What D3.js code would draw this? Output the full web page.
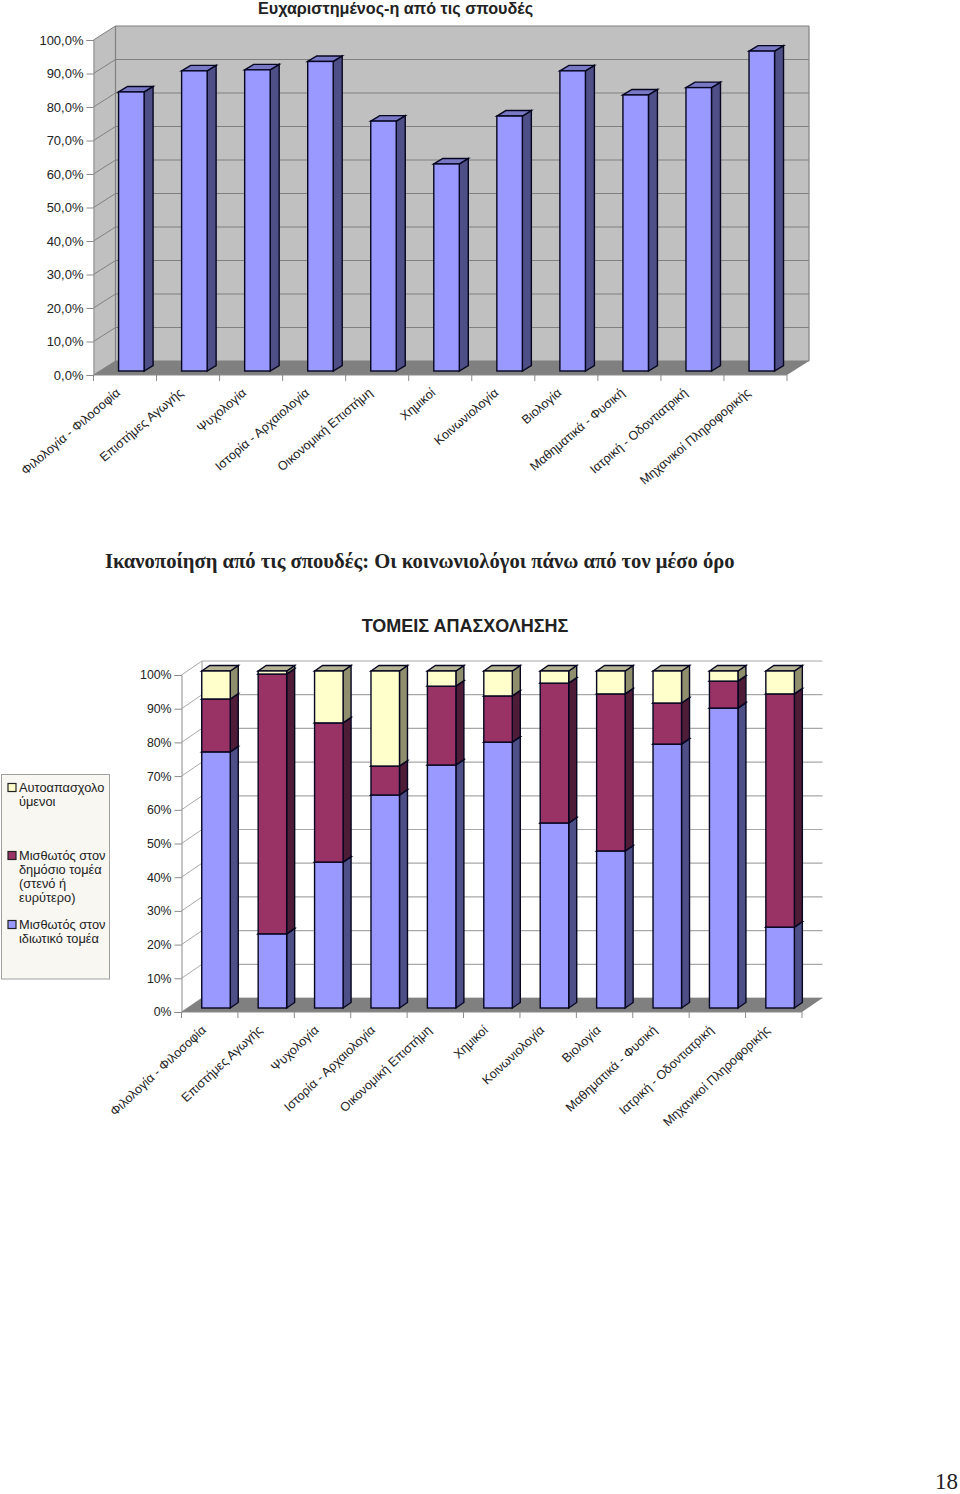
<!DOCTYPE html>
<html lang="el">
<head>
<meta charset="UTF-8">
<title>Ικανοποίηση από τις σπουδές</title>
<script src="https://d3js.org/d3.v7.min.js"></script>
<style>
  html, body { margin: 0; padding: 0; background: #fff; }
  svg { display: block; }
  text { font-family: "Liberation Sans", Arial, sans-serif; fill: #222; }
</style>
</head>
<body>
<svg id="page" width="960" height="1494"></svg>
<script>
var categories = ["Φιλολογία - Φιλοσοφία", "Επιστήμες Αγωγής", "Ψυχολογία", "Ιστορία - Αρχαιολογία",
  "Οικονομική Επιστήμη", "Χημικοί", "Κοινωνιολογία", "Βιολογία", "Μαθηματικά - Φυσική",
  "Ιατρική - Οδοντιατρική", "Μηχανικοί Πληροφορικής"]
var satisfied = [83.3, 89.6, 89.9, 92.4, 74.6, 61.8, 76.1, 89.6, 82.4, 84.6, 95.5]

var privateSector = [76, 22, 43.3, 63.2, 72.1, 78.9, 54.9, 46.6, 78.3, 89, 24]
var publicSector = [15.7, 77.1, 41.3, 8.6, 23.4, 13.7, 41.5, 46.6, 12.2, 8, 69.2]
var selfEmployed = [8.3, 0.9, 15.4, 28.2, 4.5, 7.4, 3.6, 6.8, 9.5, 3, 6.8]

var ticks = [0, 10, 20, 30, 40, 50, 60, 70, 80, 90, 100]
var ticksOne = ["0,0%", "10,0%", "20,0%", "30,0%", "40,0%", "50,0%", "60,0%", "70,0%", "80,0%", "90,0%", "100,0%"]
var ticksTwo = ["0%", "10%", "20%", "30%", "40%", "50%", "60%", "70%", "80%", "90%", "100%"]

var blue = { front: "#9999ff", side: "#4f4f88", top: "#7878c4" }
var maroon = { front: "#993366", side: "#4e1c36", top: "#702548" }
var cream = { front: "#ffffcc", side: "#8f8f6e", top: "#b5b596" }

var svg = d3.select("#page")

function addText(str, x, y, size, weight, family, anchor) {
  return svg.append("text").attr("x", x).attr("y", y)
    .attr("font-size", size).attr("font-weight", weight || "normal")
    .attr("text-anchor", anchor || "start")
    .style("font-family", family || null)
    .text(str)
}

// the box of one bar segment: front face, then the side and the top
function drawBox(g, x0, x1, y0, y1, c, dx, dy) {
  var line = "#060620"
  g.append("polygon")
    .attr("points", [[x1, y1], [x1 + dx, y1 - dy], [x1 + dx, y0 - dy], [x1, y0]].join(" "))
    .attr("fill", c.side).attr("stroke", line).attr("stroke-width", 1.4)
  g.append("polygon")
    .attr("points", [[x0, y1], [x0 + dx, y1 - dy], [x1 + dx, y1 - dy], [x1, y1]].join(" "))
    .attr("fill", c.top).attr("stroke", line).attr("stroke-width", 1.4)
  g.append("rect")
    .attr("x", x0).attr("y", y1).attr("width", x1 - x0).attr("height", y0 - y1)
    .attr("fill", c.front).attr("stroke", line).attr("stroke-width", 1.4)
}

// walls, floor, grid and both axes, returns the scales
function drawFrame(o) {
  var dx = o.depthX, dy = o.depthY
  var g = svg.append("g")
  var x = d3.scaleBand().domain(categories).range([o.left, o.right])
  var y = d3.scaleLinear().domain([0, 100]).range([o.bottom, o.top])

  g.append("polygon")
    .attr("points", [[o.left, o.bottom], [o.left, o.top], [o.left + dx, o.top - dy], [o.left + dx, o.bottom - dy]].join(" "))
    .attr("fill", o.wall)
  g.append("rect")
    .attr("x", o.left + dx).attr("y", o.top - dy).attr("width", o.right - o.left).attr("height", o.bottom - o.top)
    .attr("fill", o.wall)

  ticks.forEach(function(t) {
    g.append("line").attr("x1", o.left).attr("y1", y(t)).attr("x2", o.left + dx).attr("y2", y(t) - dy)
      .attr("stroke", o.grid).attr("stroke-width", 1)
    g.append("line").attr("x1", o.left + dx).attr("y1", y(t) - dy).attr("x2", o.right + dx).attr("y2", y(t) - dy)
      .attr("stroke", o.grid).attr("stroke-width", 1.2)
  })
  g.append("line").attr("x1", o.left + dx).attr("y1", o.top - dy).attr("x2", o.left + dx).attr("y2", o.bottom - dy)
    .attr("stroke", o.grid).attr("stroke-width", 1.2)
  if (o.wallEdge) {
    g.append("line").attr("x1", o.right + dx).attr("y1", o.top - dy).attr("x2", o.right + dx).attr("y2", o.bottom - dy)
      .attr("stroke", o.grid).attr("stroke-width", 1.2)
  }

  g.append("polygon")
    .attr("points", [[o.left, o.bottom], [o.left + dx, o.bottom - dy], [o.right + dx, o.bottom - dy], [o.right, o.bottom]].join(" "))
    .attr("fill", "#808080")

  var yAxis = d3.axisLeft(y).tickValues(ticks)
    .tickFormat(function(d, i) { return o.labels[i] })
    .tickSize(7).tickPadding(3)
  var ya = g.append("g").attr("transform", "translate(" + o.left + ",0)").call(yAxis)
  ya.selectAll("path, line").attr("stroke", "#8a8a8a")
  ya.selectAll("text").attr("font-size", o.tickSize).style("font-family", '"Liberation Sans", Arial, sans-serif').attr("fill", "#222")

  g.append("line").attr("x1", o.left).attr("y1", o.bottom).attr("x2", o.right).attr("y2", o.bottom).attr("stroke", "#8a8a8a")
  var edges = categories.map(function(c) { return x(c) }).concat([o.right])
  edges.forEach(function(e) {
    g.append("line").attr("x1", e).attr("y1", o.bottom).attr("x2", e).attr("y2", o.bottom + 6).attr("stroke", "#8a8a8a")
  })
  categories.forEach(function(c) {
    var px = x(c) + x.bandwidth() / 2 + o.labelX, py = o.bottom + o.labelY
    g.append("text").attr("transform", "translate(" + px + "," + py + ") rotate(" + o.catAngle + ")")
      .attr("text-anchor", "end").attr("font-size", o.catSize).text(c)
  })
  return { x: x, y: y }
}

// ---- first chart
addText("Ευχαριστημένος-η από τις σπουδές", 395.5, 14, 16.2, "bold", null, "middle")

var one = { left: 93.5, right: 787, top: 40, bottom: 375, depthX: 22, depthY: 14, wall: "#c0c0c0", grid: "#808080",
  wallEdge: true, labels: ticksOne, tickSize: 13, catSize: 12.6, catAngle: -40.5, labelX: -4, labelY: 19 }
var s1 = drawFrame(one)
var g1 = svg.append("g")
var w1 = 25.5
satisfied.forEach(function(v, i) {
  var c = categories[i]
  var x0 = s1.x(c) + (s1.x.bandwidth() - w1) / 2 + 6.3
  drawBox(g1, x0, x0 + w1, s1.y(0) - 4, s1.y(v) - 4, blue, 9, 5.5)
})

// ---- text between the charts
addText("Ικανοποίηση από τις σπουδές: Οι κοινωνιολόγοι πάνω από τον μέσο όρο", 105, 568, 20.6, "bold", '"Liberation Serif", serif')
addText("ΤΟΜΕΙΣ ΑΠΑΣΧΟΛΗΣΗΣ", 465, 632, 18, "bold", null, "middle")

// ---- second chart
var two = { left: 181.5, right: 802, top: 675, bottom: 1012, depthX: 20.5, depthY: 14, wall: "#ffffff", grid: "#a8a8a8",
  wallEdge: false, labels: ticksTwo, tickSize: 12.3, catSize: 12.6, catAngle: -43, labelX: -3, labelY: 19 }
var s2 = drawFrame(two)
var rows = categories.map(function(c, i) {
  return { cat: c, priv: privateSector[i], pub: publicSector[i], self: selfEmployed[i] }
})
var keys = ["priv", "pub", "self"]
var keyColors = { priv: blue, pub: maroon, self: cream }
var stacked = d3.stack().keys(keys)(rows)
var g2 = svg.append("g")
var w2 = 28.5
rows.forEach(function(r, i) {
  var x0 = s2.x(r.cat) + (s2.x.bandwidth() - w2) / 2 + 6.3
  stacked.forEach(function(layer) {
    var d = layer[i]
    drawBox(g2, x0, x0 + w2, s2.y(d[0]) - 4, s2.y(d[1]) - 4, keyColors[layer.key], 8, 5.5)
  })
})

// ---- legend
var legendItems = [
  { lines: ["Αυτοαπασχολο", "ύμενοι"], c: cream, y: 792 },
  { lines: ["Μισθωτός στον", "δημόσιο τομέα", "(στενό ή", "ευρύτερο)"], c: maroon, y: 860 },
  { lines: ["Μισθωτός στον", "ιδιωτικό τομέα"], c: blue, y: 929 }
]
svg.append("rect").attr("x", 1.5).attr("y", 774.5).attr("width", 108).attr("height", 204.5)
  .attr("fill", "#f8f7f2").attr("stroke", "#a0a0a0")
legendItems.forEach(function(it) {
  svg.append("rect").attr("x", 8).attr("y", it.y - 8.5).attr("width", 8).attr("height", 8)
    .attr("fill", it.c.front).attr("stroke", "#222").attr("stroke-width", 1.2)
  it.lines.forEach(function(l, i) {
    addText(l, 19, it.y + i * 13.9, 12.8)
  })
})

// page number
addText("18", 958, 1488.5, 23, "normal", '"Liberation Serif", serif', "end")
</script>
</body>
</html>
